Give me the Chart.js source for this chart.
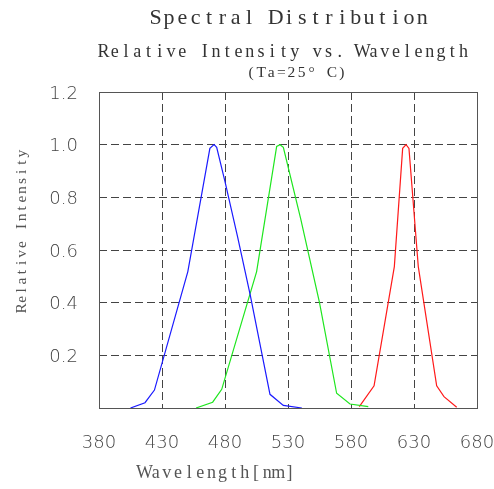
<!DOCTYPE html>
<html>
<head>
<meta charset="utf-8">
<script src="https://cdn.jsdelivr.net/npm/chart.js@4.4.0/dist/chart.umd.min.js"></script>
<style>
  html, body { margin: 0; padding: 0; background: #fff; }
  canvas { display: block; }
</style>
</head>
<body>
<canvas id="chart" width="494" height="489"></canvas>
<script>
// Datos (longitud de onda nm, intensidad relativa)
const azulX = [405, 416.5, 424, 450.5, 468, 471.3, 473.4, 480, 490, 500, 515.7, 526.3, 541];
const azulY = [0, 0.02, 0.068, 0.518, 0.986, 1.0, 0.99, 0.86, 0.65, 0.43, 0.052, 0.01, 0];

const verdeX = [457, 470.2, 477.4, 505.1, 521, 523.7, 526.3, 540, 555, 568.6, 579.2, 593.7];
const verdeY = [0, 0.022, 0.071, 0.518, 0.993, 1.0, 0.99, 0.72, 0.40, 0.056, 0.015, 0.005];

const rojoX = [586.6, 598.3, 614.4, 621, 623.7, 626, 633.4, 648, 653.8, 663.9];
const rojoY = [0.005, 0.084, 0.537, 0.986, 1.0, 0.986, 0.537, 0.084, 0.043, 0.003];

const ticksX = [380, 430, 480, 530, 580, 630, 680];
const ticksY = [0, 0.2, 0.4, 0.6, 0.8, 1.0, 1.2];

const titulo = 'Spectral Distribution';
const subtitulo1 = 'Relative Intensity vs. Wavelength';
const subtitulo2 = '(Ta=25\u00b0 C)';
const tituloX = 'Wavelength[nm]';
const tituloY = 'Relative Intensity';

function puntos(xs, ys) {
    return xs.map((x, i) => ({ x: x, y: ys[i] }));
}

// Texto tipo monoespaciado: cada letra centrada en una celda fija
function textoMono(ctx, texto, x0, y, ancho, fuente) {
    ctx.font = fuente;
    ctx.textAlign = 'center';
    const celda = ancho / texto.length;
    for (let i = 0; i < texto.length; i++) {
        ctx.fillText(texto[i], x0 + celda * (i + 0.5), y);
    }
}

// Marco y textos dibujados a mano
const marcoYTextos = {
    id: 'marcoYTextos',
    afterDraw(chart) {
        const ctx = chart.ctx;
        const a = chart.chartArea;
        ctx.save();
        ctx.strokeStyle = '#555';
        ctx.lineWidth = 1;
        ctx.strokeRect(Math.round(a.left) + 0.5, Math.round(a.top) + 0.5,
            Math.round(a.right - a.left), Math.round(a.bottom - a.top));

        ctx.fillStyle = '#333';
        ctx.textBaseline = 'alphabetic';
        textoMono(ctx, titulo, 149, 24, 280, '22px "Liberation Serif"');
        textoMono(ctx, subtitulo1, 98, 57, 371, '18px "Liberation Serif"');
        textoMono(ctx, subtitulo2, 246, 77, 101, '15.5px "Liberation Serif"');

        ctx.fillStyle = '#555';
        textoMono(ctx, tituloX, 139, 478, 156, '18px "Liberation Serif"');

        ctx.save();
        ctx.translate(26, 313);
        ctx.rotate(-Math.PI / 2);
        textoMono(ctx, tituloY, 0, 0, 164, '15.5px "Liberation Serif"');
        ctx.restore();
        ctx.restore();
    }
};

const fuenteTicks = { family: 'DejaVu Sans', size: 18, weight: '200' };

new Chart(document.getElementById('chart').getContext('2d'), {
    type: 'line',
    data: {
        datasets: [
            { data: puntos(azulX, azulY), borderColor: '#1a1aff' },
            { data: puntos(verdeX, verdeY), borderColor: '#1ee61e' },
            { data: puntos(rojoX, rojoY), borderColor: '#ff1a1a' }
        ]
    },
    options: {
        responsive: false,
        devicePixelRatio: 1,
        animation: false,
        layout: { padding: { top: 92, left: 0, right: 17, bottom: 0 } },
        elements: {
            line: { borderWidth: 1.2, tension: 0, fill: false },
            point: { radius: 0 }
        },
        plugins: {
            legend: { display: false },
            tooltip: { enabled: false }
        },
        scales: {
            x: {
                type: 'linear',
                min: 380,
                max: 680,
                afterBuildTicks: s => { s.ticks = ticksX.map(v => ({ value: v })); },
                afterFit: s => { s.height = 81; s.paddingLeft = 0; s.paddingRight = 0; },
                ticks: {
                    font: fuenteTicks,
                    color: '#444',
                    padding: 25,
                    maxRotation: 0,
                    autoSkip: false
                },
                grid: {
                    color: '#444',
                    lineWidth: 1,
                    drawTicks: false
                },
                border: { display: false, dash: [8, 4] }
            },
            y: {
                min: 0,
                max: 1.2,
                afterBuildTicks: s => { s.ticks = ticksY.map(v => ({ value: v })); },
                afterFit: s => { s.width = 99; s.paddingTop = 0; s.paddingBottom = 0; },
                ticks: {
                    font: fuenteTicks,
                    color: '#444',
                    padding: 21,
                    labelOffset: 2,
                    callback: v => v === 0 ? '' : v.toFixed(1)
                },
                grid: {
                    color: '#444',
                    lineWidth: 1,
                    drawTicks: false
                },
                border: { display: false, dash: [8, 4] }
            }
        }
    },
    plugins: [marcoYTextos]
});
</script>
</body>
</html>
